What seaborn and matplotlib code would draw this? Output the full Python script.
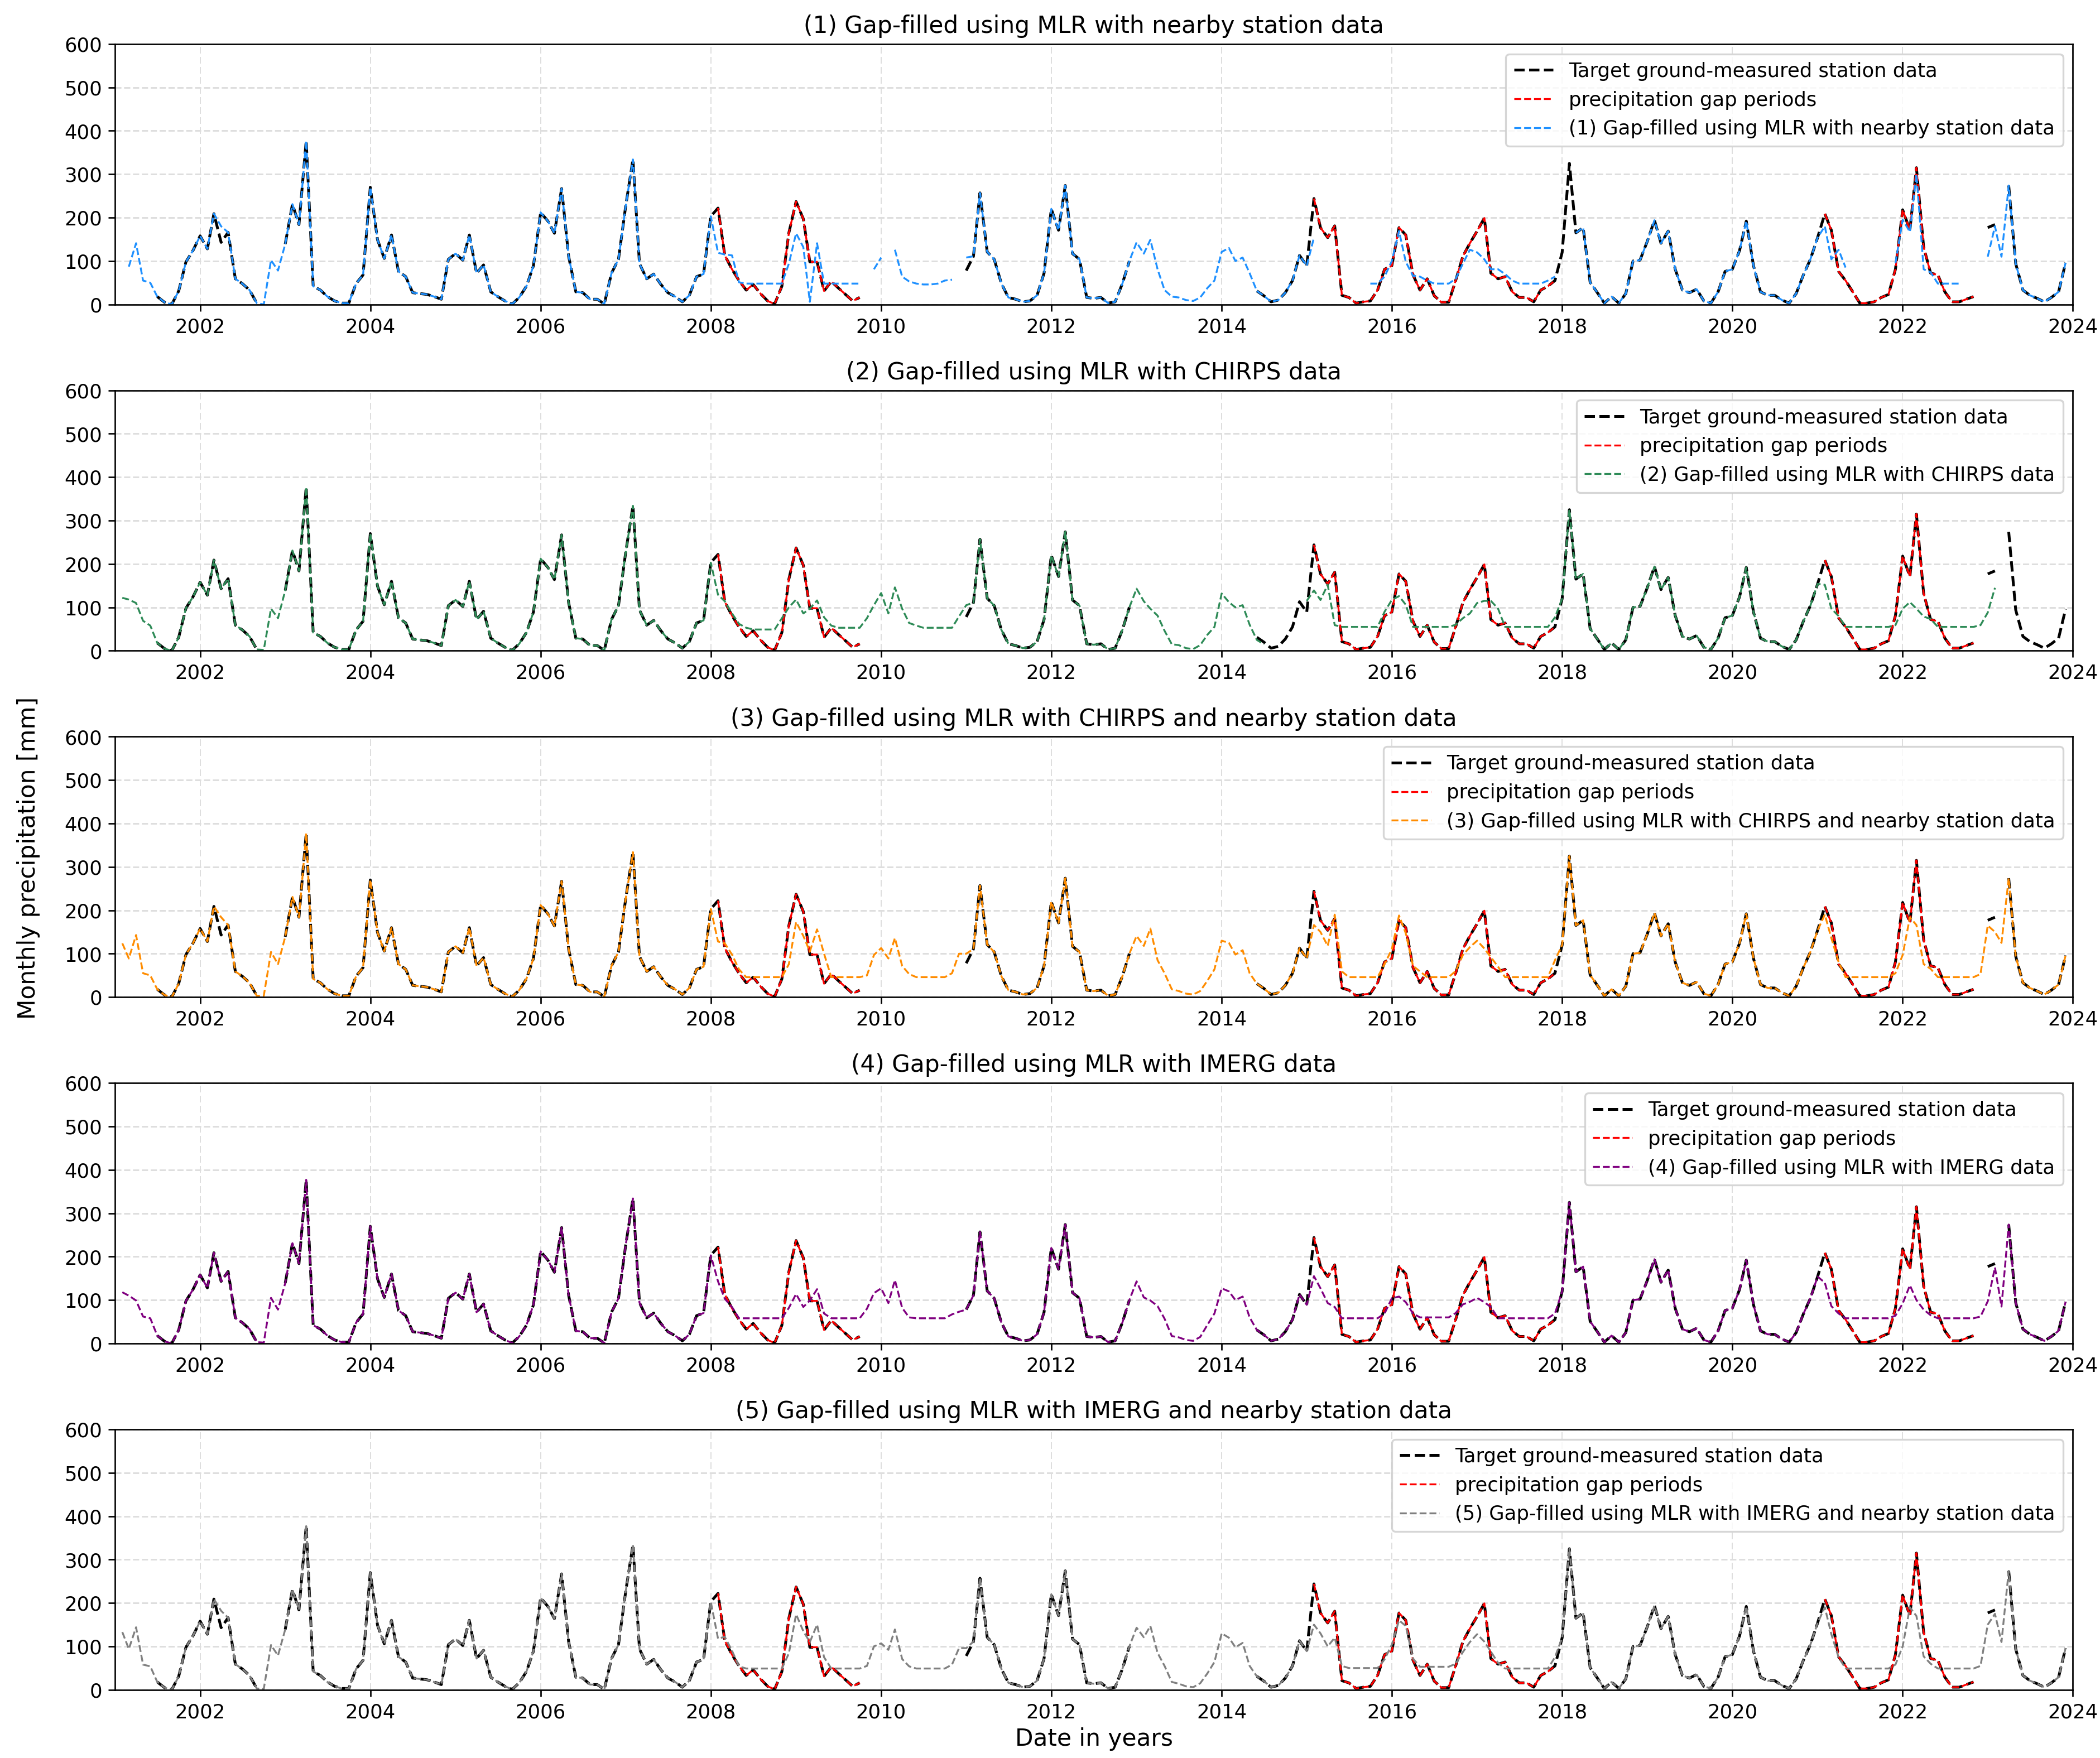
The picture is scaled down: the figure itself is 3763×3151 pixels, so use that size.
import numpy as np
import pandas as pd
import matplotlib
matplotlib.use("Agg")
import matplotlib.pyplot as plt
import matplotlib.dates as mdates
from matplotlib.lines import Line2D
import seaborn as sns

nan = np.nan

# ---------------- data ----------------
years = list(range(2001, 2024))

target_by_year = {
    2001: [nan, nan, nan, nan, nan, nan, 18, 5, 0, 31, 98, 124],
    2002: [158, 128, 209, 143, 166, 59, 48, 33, 3, nan, nan, nan],
    2003: [139, 231, 184, 377, 42, 33, 18, 8, 3, 3, 48, 68],
    2004: [270, 149, 106, 160, 76, 64, 27, 25, 23, 18, 12, 104],
    2005: [117, 102, 160, 72, 91, 29, 18, 8, 1, 16, 42, 89],
    2006: [212, 192, 164, 267, 111, 29, 27, 12, 12, 1, 72, 104],
    2007: [227, 334, 94, 59, 70, 46, 27, 18, 6, 21, 64, 70],
    2008: [203, 222, 113, 81, 55, 33, 46, 25, 8, 1, 42, 165],
    2009: [237, 197, 98, 98, 31, 53, 38, 23, 8, 16, nan, nan],
    2010: [nan] * 12,
    2011: [78, 111, 257, 121, 104, 48, 16, 12, 6, 8, 21, 72],
    2012: [220, 171, 274, 117, 104, 16, 14, 16, 3, 6, 48, 100],
    2013: [nan] * 12,
    2014: [nan, nan, nan, nan, nan, 31, 20, 6, 10, 27, 55, 113],
    2015: [89, 244, 177, 154, 181, 21, 16, 3, 6, 8, 33, 81],
    2016: [89, 177, 160, 68, 33, 59, 20, 5, 5, 55, 111, 141],
    2017: [169, 199, 72, 59, 64, 29, 16, 16, 6, 33, 42, 55],
    2018: [120, 325, 165, 177, 51, 27, 3, 18, 3, 25, 100, 102],
    2019: [145, 194, 141, 169, 81, 33, 27, 35, 8, 3, 29, 76],
    2020: [81, 124, 192, 89, 29, 21, 21, 10, 3, 25, 68, 104],
    2021: [154, 209, 171, 76, 55, 29, 3, 3, 6, 16, 23, 81],
    2022: [218, 171, 315, 132, 72, 68, 29, 6, 6, 12, 18, nan],
    2023: [177, 184, nan, 274, 94, 33, 21, 14, 6, 16, 29, 96],
}

gap_periods = [("2008-02-01", "2009-10-01"),
               ("2015-02-01", "2017-12-01"),
               ("2021-02-01", "2022-11-01")]

# gap-filled series: years listed replace the target year, other years equal the target
fill_nearby = {
    2001: [nan, nan, 87, 141, 55, 50, 18, 5, 0, 31, 98, 124],
    2002: [158, 128, 209, 180, 166, 59, 48, 33, 3, 0, 102, 78],
    2008: [203, 119, 115, 113, 51, 48, 48, 48, 48, 48, 48, 94],
    2009: [164, 132, 6, 141, 48, 48, 48, 48, 48, 48, nan, 81],
    2010: [108, nan, 126, 64, 53, 48, 46, 46, 48, 55, 57, nan],
    2011: [108, 111, 257, 121, 104, 48, 16, 12, 6, 8, 21, 72],
    2013: [143, 117, 149, 81, 33, 18, 16, 10, 8, 16, 38, 55],
    2014: [121, 130, 100, 108, 72, 31, 20, 6, 10, 27, 55, 113],
    2015: [89, 154, nan, nan, nan, nan, nan, nan, nan, 48, 48, 64],
    2016: [100, 169, 98, 66, 64, 55, 48, 48, 48, 59, 94, 126],
    2017: [120, 104, 81, 81, 70, 55, 48, 48, 48, 48, 55, 64],
    2018: [nan, nan, 165, 177, 51, 27, 3, 18, 3, 25, 100, 102],
    2021: [154, 180, 104, 126, 85, nan, nan, nan, nan, nan, nan, 95],
    2022: [195, 167, 300, 81, 74, 48, 48, 48, 48, nan, nan, nan],
    2023: [110, 180, 110, 274, 94, 33, 21, 14, 6, 16, 29, 96],
}

fill_chirps = {
    2001: [nan, 122, 118, 110, 69, 58, 18, 5, 0, 31, 98, 124],
    2002: [158, 128, 209, 143, 166, 59, 48, 33, 3, 2, 97, 75],
    2008: [203, 129, 114, 86, 62, 53, 49, 49, 49, 49, 75, 100],
    2009: [118, 86, 97, 116, 77, 58, 53, 53, 53, 53, 75, 105],
    2010: [133, 86, 146, 97, 64, 58, 53, 53, 53, 53, 53, 79],
    2011: [105, 111, 257, 121, 104, 48, 16, 12, 6, 8, 21, 72],
    2013: [143, 114, 97, 81, 46, 15, 13, 6, 4, 13, 37, 55],
    2014: [132, 112, 100, 105, 60, 25, 15, nan, nan, nan, nan, nan],
    2015: [115, 139, 117, 152, 59, 55, 55, 55, 55, 55, 55, 90],
    2016: [117, 126, 106, 55, 55, 55, 55, 55, 55, 60, 75, 86],
    2017: [110, 115, 115, 97, 55, 55, 55, 55, 55, 55, 55, 77],
    2021: [154, 152, 97, 80, 55, 55, 55, 55, 55, 55, 55, 59],
    2022: [97, 112, 97, 79, 73, 55, 55, 55, 55, 55, 55, 59],
    2023: [88, 145, nan, nan, nan, nan, nan, nan, nan, nan, nan, nan],
}

fill_chirps_nearby = {
    2001: [nan, 124, 89, 143, 55, 50, 18, 5, 0, 31, 98, 124],
    2002: [158, 128, 209, 184, 166, 59, 48, 33, 3, 3, 104, 76],
    2008: [203, 128, 124, 98, 64, 46, 46, 46, 46, 46, 46, 76],
    2009: [173, 141, 105, 156, 100, 46, 46, 46, 46, 46, 50, 97],
    2010: [113, 89, 136, 72, 53, 46, 46, 46, 46, 46, 55, 100],
    2011: [100, 111, 257, 121, 104, 48, 16, 12, 6, 8, 21, 72],
    2013: [141, 118, 158, 85, 55, 18, 14, 8, 6, 14, 38, 64],
    2014: [130, 125, 98, 108, 55, 31, 20, 6, 10, 27, 55, 113],
    2015: [89, 166, 150, 118, 190, 59, 46, 46, 46, 46, 46, 76],
    2016: [110, 188, 147, 72, 59, 46, 46, 46, 46, 60, 97, 115],
    2017: [130, 112, 92, 70, 46, 46, 46, 46, 46, 46, 46, 85],
    2021: [154, 190, 136, 81, 46, 46, 46, 46, 46, 46, 46, 55],
    2022: [97, 184, 166, 76, 65, 46, 46, 46, 46, 46, 46, 53],
    2023: [165, 150, 125, 274, 94, 33, 21, 14, 6, 16, 29, 96],
}

fill_imerg = {
    2001: [nan, 118, 110, 99, 62, 58, 18, 5, 0, 31, 98, 124],
    2002: [158, 128, 209, 143, 166, 59, 48, 33, 3, 2, 105, 78],
    2008: [203, 143, 103, 84, 58, 58, 58, 58, 58, 58, 58, 82],
    2009: [114, 84, 99, 125, 69, 58, 58, 58, 58, 58, 80, 116],
    2010: [127, 93, 146, 82, 60, 58, 58, 58, 58, 58, 67, 73],
    2013: [143, 106, 99, 86, 57, 17, 14, 8, 6, 15, 43, 69],
    2014: [127, 120, 100, 108, 60, 31, 20, 6, 10, 27, 55, 113],
    2015: [89, 155, 127, 93, 84, 58, 58, 58, 58, 58, 58, 69],
    2016: [104, 108, 95, 69, 60, 60, 60, 60, 60, 70, 90, 96],
    2017: [105, 95, 84, 58, 58, 58, 58, 58, 58, 58, 58, 69],
    2021: [154, 140, 86, 69, 58, 58, 58, 58, 58, 58, 58, 64],
    2022: [92, 134, 100, 78, 65, 58, 58, 58, 58, 58, 58, 62],
    2023: [97, 175, 85, 274, 94, 33, 21, 14, 6, 16, 29, 96],
}

fill_imerg_nearby = {
    2001: [nan, 133, 94, 144, 58, 54, 18, 5, 0, 31, 98, 124],
    2002: [158, 128, 209, 182, 166, 59, 48, 33, 3, 2, 103, 79],
    2008: [203, 118, 122, 90, 54, 49, 49, 49, 49, 49, 49, 84],
    2009: [174, 135, 110, 150, 75, 49, 49, 49, 49, 49, 55, 100],
    2010: [107, 92, 139, 71, 54, 49, 49, 49, 49, 49, 58, 96],
    2011: [96, 111, 257, 121, 104, 48, 16, 12, 6, 8, 21, 72],
    2013: [143, 121, 147, 85, 55, 18, 14, 8, 6, 15, 38, 64],
    2014: [130, 120, 98, 108, 55, 31, 20, 6, 10, 27, 55, 113],
    2015: [89, 150, 130, 100, 120, 55, 50, 50, 50, 50, 50, 70],
    2016: [104, 160, 147, 72, 53, 53, 53, 53, 53, 60, 87, 110],
    2017: [128, 111, 88, 62, 49, 49, 49, 49, 49, 49, 49, 75],
    2021: [154, 190, 128, 75, 49, 49, 49, 49, 49, 49, 49, 58],
    2022: [100, 190, 170, 77, 60, 49, 49, 49, 49, 49, 49, 55],
    2023: [150, 175, 110, 274, 94, 33, 21, 14, 6, 16, 29, 96],
}

titles = [
    "(1) Gap-filled using MLR with nearby station data",
    "(2) Gap-filled using MLR with CHIRPS data",
    "(3) Gap-filled using MLR with CHIRPS and nearby station data",
    "(4) Gap-filled using MLR with IMERG data",
    "(5) Gap-filled using MLR with IMERG and nearby station data",
]
fills = [fill_nearby, fill_chirps, fill_chirps_nearby, fill_imerg, fill_imerg_nearby]
colors = ["dodgerblue", "seagreen", "darkorange", "purple", "gray"]

target_label = "Target ground-measured station data"
gap_label = "precipitation gap periods"

# ---------------- build series ----------------
dates = pd.date_range("2001-01-01", "2023-12-01", freq="MS")
target = np.array(sum([target_by_year[y] for y in years], []), dtype=float)

gap_mask = np.zeros(len(dates), dtype=bool)
for s, e in gap_periods:
    gap_mask |= (dates >= pd.Timestamp(s)) & (dates <= pd.Timestamp(e))
gap_vals = np.where(gap_mask, target, np.nan)


def series_from(overrides):
    vals = target.copy()
    for y, v in overrides.items():
        i = (y - 2001) * 12
        vals[i:i + 12] = v
    return vals


def seg_frame(vals):
    vals = np.asarray(vals, dtype=float)
    ok = ~np.isnan(vals)
    seg = np.cumsum(~ok)
    df = pd.DataFrame({"date": dates, "value": vals, "seg": seg})
    return df[ok]


# ---------------- plot ----------------
FS_TITLE = 12.7
FS_SMALL = 10.6

fig, axes = plt.subplots(5, 1, figsize=(15.68, 13.13))
fig.subplots_adjust(left=0.0548, right=0.987, top=0.9749, bottom=0.0388, hspace=0.33)

tdf = seg_frame(target)
gdf = seg_frame(gap_vals)

for ax, title, fill, col in zip(axes, titles, fills, colors):
    fdf = seg_frame(series_from(fill))
    sns.lineplot(data=tdf, x="date", y="value", units="seg", estimator=None,
                 color="black", linestyle="--", linewidth=1.5, ax=ax, legend=False)
    sns.lineplot(data=gdf, x="date", y="value", units="seg", estimator=None,
                 color="red", linestyle="--", linewidth=1.0, ax=ax, legend=False)
    sns.lineplot(data=fdf, x="date", y="value", units="seg", estimator=None,
                 color=col, linestyle="--", linewidth=1.0, ax=ax, legend=False)

    ax.set_xlim(pd.Timestamp("2001-01-01"), pd.Timestamp("2024-01-01"))
    ax.set_ylim(0, 600)
    ax.set_yticks(range(0, 601, 100))
    ax.xaxis.set_major_locator(mdates.YearLocator(2))
    ax.xaxis.set_major_formatter(mdates.DateFormatter("%Y"))
    ax.set_xlabel("")
    ax.set_ylabel("")
    ax.set_title(title, fontsize=FS_TITLE)
    ax.tick_params(labelsize=FS_SMALL)
    ax.grid(True, axis="y", linestyle="--", linewidth=0.9, color="0.87")
    ax.grid(True, axis="x", linestyle=(0, (6, 3)), linewidth=0.6, color="0.87")
    ax.set_axisbelow(True)

    handles = [Line2D([], [], color="black", linestyle="--", linewidth=1.5),
               Line2D([], [], color="red", linestyle="--", linewidth=1.0),
               Line2D([], [], color=col, linestyle="--", linewidth=1.0)]
    ax.legend(handles, [target_label, gap_label, title], loc="upper right",
              fontsize=FS_SMALL)

axes[-1].set_xlabel("Date in years", fontsize=FS_TITLE, labelpad=3)
fig.text(0.0135, 0.512, "Monthly precipitation [mm]", rotation=90,
         va="center", ha="center", fontsize=FS_TITLE)

fig.savefig("out.png", dpi=240)
